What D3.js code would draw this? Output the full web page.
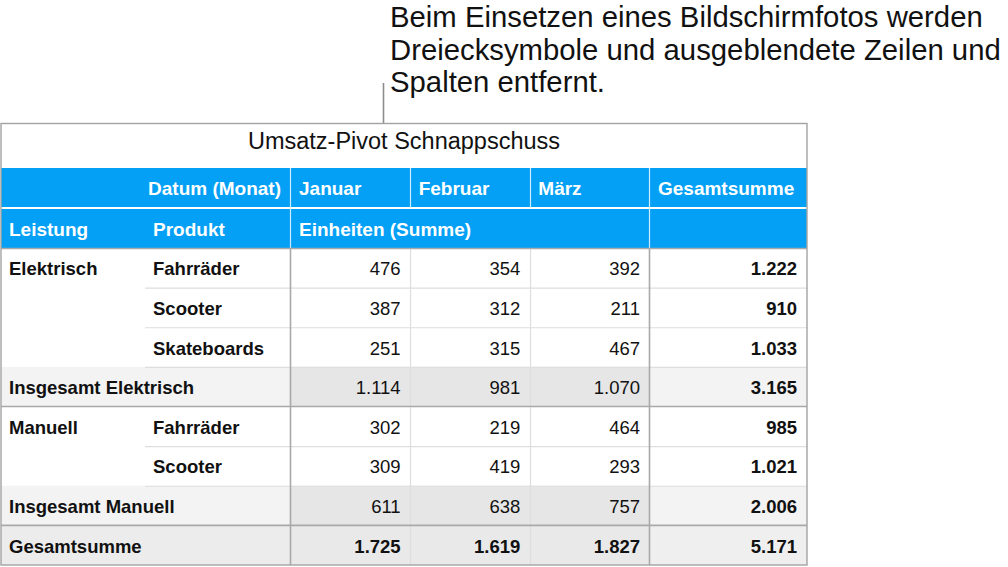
<!DOCTYPE html>
<html><head><meta charset="utf-8">
<script src="https://cdn.jsdelivr.net/npm/d3@7"></script>
<style>
html,body{margin:0;padding:0;background:#fff;}
svg{display:block;font-family:"Liberation Sans",Arial,Helvetica,sans-serif;}
</style></head>
<body>
<svg id="c" width="1008" height="567"></svg>
<script>
// ---- data ----
const annotationLines = ["Beim Einsetzen eines Bildschirmfotos werden", "Dreiecksymbole und ausgeblendete Zeilen und", "Spalten entfernt."];
const tableTitle = "Umsatz-Pivot Schnappschuss";
const columnField = "Datum (Monat)";
const rowFields = ["Leistung", "Produkt"];
const measureLabel = "Einheiten (Summe)";
const months = ["Januar", "Februar", "März"];
const totalLabel = "Gesamtsumme";
const groups = ["Elektrisch", "Manuell"];
const elektrischProducts = ["Fahrräder", "Scooter", "Skateboards"];
const elektrischValues = [[476, 354, 392], [387, 312, 211], [251, 315, 467]];
const manuellProducts = ["Fahrräder", "Scooter"];
const manuellValues = [[302, 219, 464], [309, 419, 293]];
const subtotalPrefix = "Insgesamt ";

// ---- build rows ----
const groupData = [
  {name: groups[0], products: elektrischProducts, values: elektrischValues},
  {name: groups[1], products: manuellProducts, values: manuellValues}
];
const rows = [];
groupData.forEach(g => {
  g.products.forEach((p, i) => rows.push({type: "item", group: i === 0 ? g.name : "", product: p, values: g.values[i]}));
  rows.push({type: "sub", label: subtotalPrefix + g.name, values: months.map((m, j) => d3.sum(g.values, r => r[j]))});
});
rows.push({type: "grand", label: totalLabel, values: months.map((m, j) => d3.sum(groupData, g => d3.sum(g.values, r => r[j])))});
rows.forEach(r => r.total = d3.sum(r.values));

const fmt = d3.formatLocale({decimal: ",", thousands: ".", grouping: [3], currency: ["", "€"]}).format(",d");

// ---- layout ----
const svg = d3.select("#c");
const L = 1, R = 807, T = 123;
const titleBottom = 168, h1Bottom = 207, h2Top = 209, h2Bottom = 248, B = 565;
const colEdges = [L, 145, 290, 410, 530, 649, R];
const monthX = d3.scaleBand().domain(months).range([colEdges[2], colEdges[5]]);
const y = d3.scaleBand().domain(d3.range(rows.length)).range([h2Bottom, B]);
const blue = "#04a0f6";
const darkLine = "#a9a9a9", lightLine = "#dedede";

// annotation
const ann = svg.append("g").attr("font-size", 29.3).attr("fill", "#111");
annotationLines.forEach((t, i) => ann.append("text").attr("x", 390).attr("y", 27 + i * 32.5).text(t));
svg.append("line").attr("x1", 383.5).attr("x2", 383.5).attr("y1", 83).attr("y2", T).attr("stroke", "#8c8c8c").attr("stroke-width", 1.6);

// title area
svg.append("rect").attr("x", L).attr("y", T).attr("width", R - L).attr("height", titleBottom - T).attr("fill", "#fff");
svg.append("text").attr("x", (L + R) / 2).attr("y", 149).attr("text-anchor", "middle").attr("font-size", 23.5).attr("fill", "#111").text(tableTitle);

// header rows
svg.append("rect").attr("x", L).attr("y", titleBottom).attr("width", R - L).attr("height", h1Bottom - titleBottom).attr("fill", blue);
svg.append("rect").attr("x", L).attr("y", h2Top).attr("width", R - L).attr("height", h2Bottom - h2Top).attr("fill", blue);
const hdr = svg.append("g").attr("font-size", 19).attr("font-weight", "bold").attr("fill", "#fff");
const h1y = (titleBottom + h1Bottom) / 2 + 7.5, h2y = (h2Top + h2Bottom) / 2 + 7.5;
hdr.append("text").attr("x", colEdges[2] - 9).attr("y", h1y).attr("text-anchor", "end").text(columnField);
months.forEach(m => hdr.append("text").attr("x", monthX(m) + 9).attr("y", h1y).text(m));
hdr.append("text").attr("x", colEdges[5] + 9).attr("y", h1y).text(totalLabel);
hdr.append("text").attr("x", colEdges[0] + 8).attr("y", h2y).text(rowFields[0]);
hdr.append("text").attr("x", colEdges[1] + 8).attr("y", h2y).text(rowFields[1]);
hdr.append("text").attr("x", colEdges[2] + 9).attr("y", h2y).text(measureLabel);
// header separators
[colEdges[2], colEdges[3], colEdges[4], colEdges[5]].forEach(x =>
  svg.append("line").attr("x1", x + 0.5).attr("x2", x + 0.5).attr("y1", titleBottom).attr("y2", h1Bottom).attr("stroke", "#cfeaff").attr("stroke-width", 1.2));
[colEdges[2], colEdges[5]].forEach(x =>
  svg.append("line").attr("x1", x + 0.5).attr("x2", x + 0.5).attr("y1", h2Top).attr("y2", h2Bottom).attr("stroke", "#cfeaff").attr("stroke-width", 1.2));

// body fills
const body = svg.append("g");
rows.forEach((r, i) => {
  if (r.type === "item") return;
  const grand = r.type === "grand";
  body.append("rect").attr("x", L).attr("y", y(i)).attr("width", colEdges[2] - L).attr("height", y.bandwidth()).attr("fill", grand ? "#ececec" : "#f3f3f3");
  body.append("rect").attr("x", colEdges[2]).attr("y", y(i)).attr("width", colEdges[5] - colEdges[2]).attr("height", y.bandwidth()).attr("fill", grand ? "#e9e9e9" : "#e6e6e6");
  body.append("rect").attr("x", colEdges[5]).attr("y", y(i)).attr("width", R - colEdges[5]).attr("height", y.bandwidth()).attr("fill", grand ? "#efefef" : "#f3f3f3");
});

// light horizontal lines
rows.forEach((r, i) => {
  if (i === 0) return;
  const prev = rows[i - 1];
  if (prev.type === "item") {
    body.append("line").attr("x1", colEdges[1]).attr("x2", R).attr("y1", y(i) + 0.5).attr("y2", y(i) + 0.5).attr("stroke", lightLine).attr("stroke-width", 1.2);
  }
});
// light vertical lines
[colEdges[3], colEdges[4]].forEach(x =>
  body.append("line").attr("x1", x + 0.5).attr("x2", x + 0.5).attr("y1", h2Bottom).attr("y2", B).attr("stroke", lightLine).attr("stroke-width", 1.2));
// dark horizontal lines
body.append("line").attr("x1", L).attr("x2", R).attr("y1", h2Bottom + 0.5).attr("y2", h2Bottom + 0.5).attr("stroke", darkLine).attr("stroke-width", 1.6);
rows.forEach((r, i) => {
  if (r.type === "sub") {
    const yy = y(i) + y.bandwidth();
    body.append("line").attr("x1", L).attr("x2", R).attr("y1", yy).attr("y2", yy).attr("stroke", darkLine).attr("stroke-width", 1.6);
  }
});
// dark vertical lines
[colEdges[2], colEdges[5]].forEach(x =>
  body.append("line").attr("x1", x + 0.5).attr("x2", x + 0.5).attr("y1", h2Bottom).attr("y2", B).attr("stroke", darkLine).attr("stroke-width", 1.6));

// body text
const tx = body.append("g").attr("font-size", 18.5).attr("fill", "#111");
rows.forEach((r, i) => {
  const ty = y(i) + y.bandwidth() / 2 + 7.5;
  if (r.type === "item") {
    if (r.group) tx.append("text").attr("x", colEdges[0] + 8).attr("y", ty).attr("font-weight", "bold").text(r.group);
    tx.append("text").attr("x", colEdges[1] + 8).attr("y", ty).attr("font-weight", "bold").text(r.product);
  } else {
    tx.append("text").attr("x", colEdges[0] + 8).attr("y", ty).attr("font-weight", "bold").text(r.label);
  }
  r.values.forEach((v, j) => tx.append("text").attr("x", monthX(months[j]) + monthX.bandwidth() - 9).attr("y", ty)
    .attr("text-anchor", "end").attr("font-weight", r.type === "grand" ? "bold" : "normal").text(fmt(v)));
  tx.append("text").attr("x", R - 10).attr("y", ty).attr("text-anchor", "end").attr("font-weight", "bold").text(fmt(r.total));
});

// outer border
svg.append("rect").attr("x", L).attr("y", T + 0.5).attr("width", R - L).attr("height", B - T - 0.5)
  .attr("fill", "none").attr("stroke", "#a3a3a3").attr("stroke-width", 1.4);
</script>
</body></html>
